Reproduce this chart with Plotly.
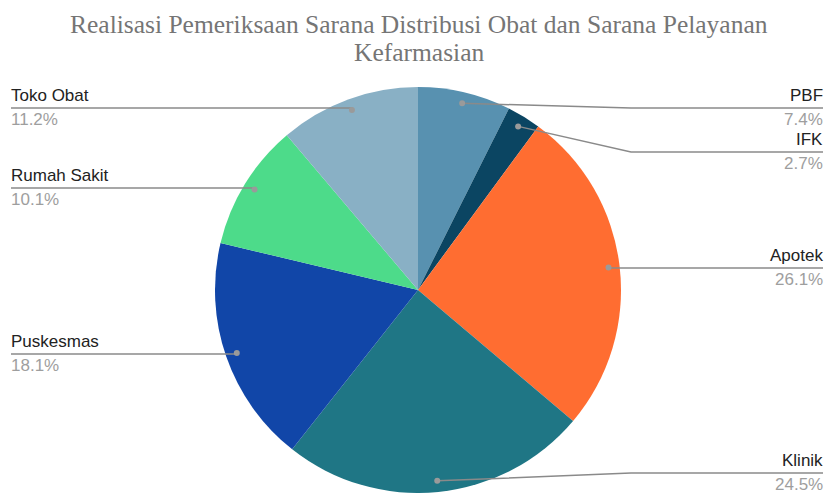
import math
import plotly.graph_objects as go

labels = ["PBF", "IFK", "Apotek", "Klinik", "Puskesmas", "Rumah Sakit", "Toko Obat"]
values = [7.4, 2.7, 26.1, 24.5, 18.1, 10.1, 11.2]
colors = ["#5891b0", "#0b4562", "#ff6d31", "#1f7685", "#1146a8", "#4ddb8a", "#89b0c5"]
title_lines = ["Realisasi Pemeriksaan Sarana Distribusi Obat dan Sarana Pelayanan", "Kefarmasian"]
# label placement (layout): side and y of leader line in pixels
label_side = ["right", "right", "right", "right", "left", "left", "left"]
label_line_y = [108, 152, 268, 473, 354, 188, 108]

W, H = 829, 493
CX, CY, R = 418, 290, 203

def px2paper(x, y):
    return x / W, 1 - y / H

fig = go.Figure(go.Pie(
    labels=labels, values=values, sort=False, direction="clockwise", rotation=0,
    marker=dict(colors=colors, line=dict(width=0)),
    textinfo="none", hoverinfo="label+percent", showlegend=False,
    domain=dict(x=[(CX - R) / W, (CX + R) / W], y=[(H - CY - R) / H, (H - CY + R) / H]),
))

total = sum(values)
shapes = []
annotations = []
cum = 0
for lab, v, side, ly in zip(labels, values, label_side, label_line_y):
    mid = (cum + v / 2) / total
    cum += v
    th = 2 * math.pi * mid
    rd = 0.945 * R
    dx = CX + rd * math.sin(th)
    dy = CY - rd * math.cos(th)
    if side == "right":
        xe = 823
        elbow = 631 if abs(dy - ly) > 2 else dx
    else:
        xe = 11
        elbow = dx
    pts = [(dx, dy), (elbow, ly), (xe, ly)]
    path = "M " + " L ".join(f"{px2paper(x, y)[0]},{px2paper(x, y)[1]}" for x, y in pts)
    shapes.append(dict(type="path", xref="paper", yref="paper", path=path,
                       line=dict(color="#8a8a8a", width=1.5)))
    x0, y0 = px2paper(dx - 3, dy - 3)
    x1, y1 = px2paper(dx + 3, dy + 3)
    shapes.append(dict(type="circle", xref="paper", yref="paper", x0=x0, y0=y1, x1=x1, y1=y0,
                       fillcolor="#9a9a9a", line=dict(width=0)))
    tx = xe + 2 if side == "right" else xe - 2
    ax, _ = px2paper(tx, ly)
    anchor = "right" if side == "right" else "left"
    _, yt = px2paper(tx, ly - 1)
    _, yb = px2paper(tx, ly)
    annotations.append(dict(x=ax, y=yt, xref="paper", yref="paper", xanchor=anchor, yanchor="bottom",
                            text=lab, showarrow=False,
                            font=dict(family="Liberation Sans, Arial", size=17, color="#222222")))
    annotations.append(dict(x=ax, y=yb, xref="paper", yref="paper", xanchor=anchor, yanchor="top",
                            text=f"{v / total * 100:.1f}%", showarrow=False,
                            font=dict(family="Liberation Sans, Arial", size=17, color="#9e9e9e")))

for line, yc in zip(title_lines, [25, 52]):
    annotations.append(dict(x=419 / W, y=1 - yc / H, xref="paper", yref="paper", xanchor="center",
                            yanchor="middle", text=line, showarrow=False,
                            font=dict(family="Liberation Serif, serif", size=25.5, color="#757575")))

fig.update_layout(width=W, height=H, margin=dict(l=0, r=0, t=0, b=0),
                  paper_bgcolor="white", plot_bgcolor="white",
                  shapes=shapes, annotations=annotations)
fig.write_html("out.html", config={"displayModeBar": False},
               post_script="document.body.style.margin='0';")
